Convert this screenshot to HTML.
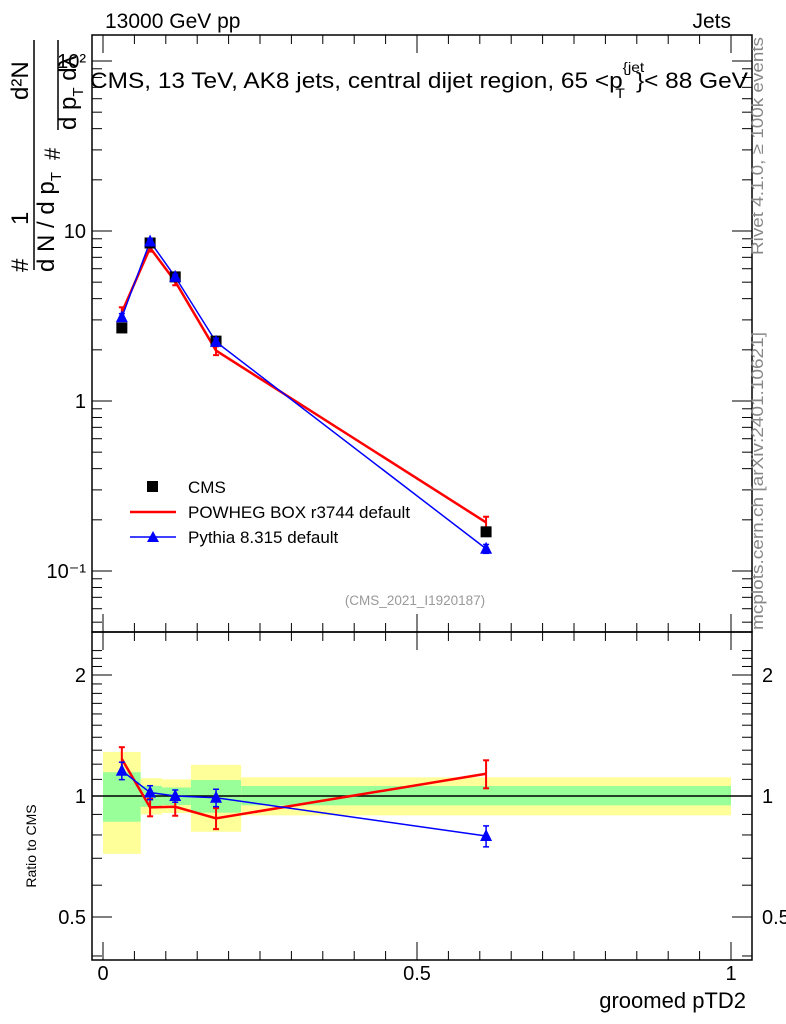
<!DOCTYPE html>
<html><head><meta charset="utf-8"><style>
html,body{margin:0;padding:0;background:#fff;}
svg{display:block;font-family:"Liberation Sans",sans-serif;}
</style></head><body>
<svg id="c" width="786" height="1024" viewBox="0 0 786 1024" xmlns="http://www.w3.org/2000/svg">
<g id="bands"></g>
<g id="axes"></g>
<g id="marks"></g>
<text x="105" y="28" font-size="21">13000 GeV pp</text>
<text x="731" y="28" font-size="21" text-anchor="end">Jets</text>
<text transform="translate(90,88) scale(1.11,1)" x="0" y="0" font-size="22">CMS, 13 TeV, AK8 jets, central dijet region, 65 &lt;p<tspan font-size="14" dy="-16">{jet</tspan><tspan font-size="14" dx="-26" dy="26">T</tspan><tspan dy="-10" dx="10">}&lt; 88 GeV</tspan></text>
<text x="415" y="605" font-size="13.5" fill="#999" text-anchor="middle">(CMS_2021_I1920187)</text>
<text transform="translate(763,255) rotate(-90)" font-size="16.5" fill="#888" textLength="218" lengthAdjust="spacingAndGlyphs">Rivet 4.1.0, ≥ 100k events</text>
<text transform="translate(763,630) rotate(-90)" font-size="16.5" fill="#888" textLength="298" lengthAdjust="spacingAndGlyphs">mcplots.cern.ch [arXiv:2401.10621]</text>
<g font-size="24">
<text transform="translate(28,272) rotate(-90)">#</text>
<text transform="translate(28,225) rotate(-90)">1</text>
<line x1="34" y1="270" x2="34" y2="40" stroke="#000" stroke-width="1.5"/>
<text transform="translate(54,272) rotate(-90)">d N / d p<tspan font-size="15" dy="7">T</tspan></text>
<text transform="translate(28,100) rotate(-90)">d²N</text>
<text transform="translate(60,160) rotate(-90)" font-size="22">#</text>
<line x1="58" y1="130" x2="58" y2="40" stroke="#000" stroke-width="1.5"/>
<text transform="translate(76,130) rotate(-90)">d p<tspan font-size="15" dy="7">T</tspan><tspan dy="-7"> dλ</tspan></text>
</g>
<text transform="translate(36,846) rotate(-90)" font-size="14" text-anchor="middle">Ratio to CMS</text>
<text x="746" y="1008" font-size="22" text-anchor="end">groomed pTD2</text>
<g id="legend" font-size="17">
<rect x="147" y="481" width="11" height="11" fill="#000"/>
<text x="188" y="493">CMS</text>
<line x1="130" y1="512" x2="176" y2="512" stroke="#f00" stroke-width="2.5"/>
<text x="188" y="518">POWHEG BOX r3744 default</text>
<line x1="130" y1="537" x2="176" y2="537" stroke="#00f" stroke-width="1.5"/>
<polygon points="153,531 147,542 159,542" fill="#00f"/>
<text x="188" y="543">Pythia 8.315 default</text>
</g>
</svg>
<script>
const binEdges=[0,0.06,0.094,0.14,0.22,1.0];
const xVals=[0.03,0.075,0.115,0.18,0.61];
const cmsVals=[2.69,8.5,5.37,2.25,0.17];
const powhegRatio=[1.236,0.937,0.94,0.88,1.136];
const powhegErr=[0.07,0.05,0.05,0.06,0.08];
const pythiaRatio=[1.156,1.02,1.0,0.99,0.795];
const pythiaErr=[0.05,0.04,0.035,0.05,0.06];
const yellowHi=[1.287,1.107,1.10,1.195,1.113];
const yellowLo=[0.718,0.90,0.907,0.815,0.895];
const greenHi=[1.146,1.06,1.05,1.096,1.059];
const greenLo=[0.863,0.94,0.95,0.909,0.948];
const xTicks=[0,0.5,1];
const xTickLabels=["0","0.5","1"];
const yTicks=[0.1,1,10,100];
const yTickLabels=["10⁻¹","1","10","10²"];
const rTicks=[0.5,1,2];
const rTickLabels=["0.5","1","2"];

const NS="http://www.w3.org/2000/svg";
const X=v=>103+628*v;
const Y=v=>231-170*Math.log10(v/10);
const R=v=>796-402*Math.log10(v);
const L=92,Rt=752,T1=35,B1=632,B2=960;
function mk(p,tag,a){const e=document.createElementNS(NS,tag);for(const k in a)e.setAttribute(k,a[k]);p.appendChild(e);return e;}
const bands=document.getElementById('bands'),axes=document.getElementById('axes'),marks=document.getElementById('marks');

for(let i=0;i<binEdges.length-1;i++){
 let e=mk(bands,'rect',{x:X(binEdges[i]),y:R(yellowHi[i]),width:X(binEdges[i+1])-X(binEdges[i]),height:R(yellowLo[i])-R(yellowHi[i]),fill:'#ffff99'});
 
 
 e=mk(bands,'rect',{x:X(binEdges[i]),y:R(greenHi[i]),width:X(binEdges[i+1])-X(binEdges[i]),height:R(greenLo[i])-R(greenHi[i]),fill:'#99ff99'});
 
 
}
let f=mk(axes,'rect',{x:L,y:T1,width:Rt-L,height:B1-T1,fill:'none',stroke:'#000','stroke-width':1.5});


f=mk(axes,'rect',{x:L,y:B1,width:Rt-L,height:B2-B1,fill:'none',stroke:'#000','stroke-width':1.5});


mk(axes,'line',{x1:L,x2:Rt,y1:R(1),y2:R(1),stroke:'#000','stroke-width':1.5});
for(let v=0;v<=1.0001;v+=0.05){
 const big=Math.abs(v*2-Math.round(v*2))<1e-6, len=big?18:9;
 for(const [y0,d] of [[T1,1],[B1,-1],[B1,1],[B2,-1]]) mk(axes,'line',{x1:X(v),x2:X(v),y1:y0,y2:y0+d*len,stroke:'#000'});
}
xTicks.forEach((v,i)=>{const t=mk(axes,'text',{x:X(v),y:980,'font-size':20,'text-anchor':'middle'});t.textContent=xTickLabels[i];
 
 });
for(let d=-2;d<=2;d++)for(let m=1;m<10;m++){const v=m*Math.pow(10,d);const y=Y(v);if(y<T1||y>B1)continue;const len=m==1?20:10;
 mk(axes,'line',{x1:L,x2:L+len,y1:y,y2:y,stroke:'#000'});mk(axes,'line',{x1:Rt,x2:Rt-len,y1:y,y2:y,stroke:'#000'});}
yTicks.forEach((v,i)=>{const t=mk(axes,'text',{x:86,y:Y(v)+7,'font-size':20,'text-anchor':'end'});t.textContent=yTickLabels[i];
 
 });
for(let m=0.4;m<=2.31;m+=0.1){const y=R(m);if(y<B1||y>B2)continue;const big=[0.5,1,2].some(q=>Math.abs(q-m)<1e-6);const len=big?20:10;
 mk(axes,'line',{x1:L,x2:L+len,y1:y,y2:y,stroke:'#000'});mk(axes,'line',{x1:Rt,x2:Rt-len,y1:y,y2:y,stroke:'#000'});}
rTicks.forEach((v,i)=>{for(const [x,a] of [[86,'end'],[762,'start']]){const t=mk(axes,'text',{x:x,y:R(v)+7,'font-size':20,'text-anchor':a});t.textContent=rTickLabels[i];
 
 }});

function line(pts,col,w,name){const e=mk(marks,'polyline',{points:pts.map(p=>p.join(',')).join(' '),fill:'none',stroke:col,'stroke-width':w});
 
 }
function err(x,y1,y2,col,w){mk(marks,'line',{x1:x,x2:x,y1:y1,y2:y2,stroke:col,'stroke-width':w});mk(marks,'line',{x1:x-3,x2:x+3,y1:y1,y2:y1,stroke:col,'stroke-width':w});mk(marks,'line',{x1:x-3,x2:x+3,y1:y2,y2:y2,stroke:col,'stroke-width':w});}
function tri(x,y,name){const e=mk(marks,'polygon',{points:`${x},${y-7} ${x-6},${y+5} ${x+6},${y+5}`,fill:'#00f'});
 
 }
const pw=xVals.map((x,i)=>cmsVals[i]*powhegRatio[i]), py=xVals.map((x,i)=>cmsVals[i]*pythiaRatio[i]);
line(xVals.map((x,i)=>[X(x),Y(pw[i])]),'#f00',2.5,'powheg-line');
xVals.forEach((x,i)=>err(X(x),Y(pw[i]*(1+powhegErr[i])),Y(pw[i]*(1-powhegErr[i])),'#f00',2));
line(xVals.map((x,i)=>[X(x),Y(py[i])]),'#00f',1.5,'pythia-line');
xVals.forEach((x,i)=>{const e=mk(marks,'rect',{x:X(x)-5.5,y:Y(cmsVals[i])-5.5,width:11,height:11,fill:'#000'});
 
 });
xVals.forEach((x,i)=>{err(X(x),Y(py[i]*(1+pythiaErr[i])),Y(py[i]*(1-pythiaErr[i])),'#00f',1.5);tri(X(x),Y(py[i]),'pythia-point');});
line(xVals.map((x,i)=>[X(x),R(powhegRatio[i])]),'#f00',2.5,'powheg-ratio-line');
xVals.forEach((x,i)=>err(X(x),R(powhegRatio[i]+powhegErr[i]*powhegRatio[i]),R(powhegRatio[i]-powhegErr[i]*powhegRatio[i]),'#f00',2));
line(xVals.map((x,i)=>[X(x),R(pythiaRatio[i])]),'#00f',1.5,'pythia-ratio-line');
xVals.forEach((x,i)=>{err(X(x),R(pythiaRatio[i]*(1+pythiaErr[i])),R(pythiaRatio[i]*(1-pythiaErr[i])),'#00f',1.5);tri(X(x),R(pythiaRatio[i]),'pythia-ratio-point');});
</script>
</body></html>
